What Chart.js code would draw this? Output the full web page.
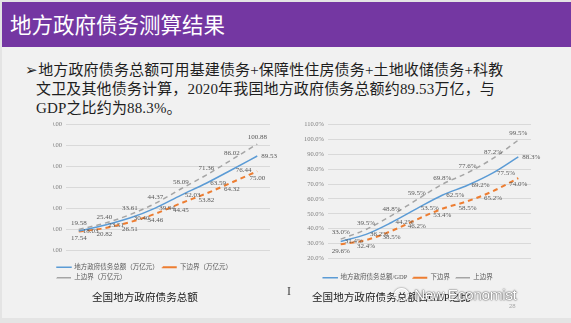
<!DOCTYPE html>
<html>
<head>
<meta charset="utf-8">
<script src="https://cdn.jsdelivr.net/npm/chart.js@4.4.1/dist/chart.umd.min.js"></script>
<style>
  body { margin: 0; width: 571px; height: 323px; overflow: hidden; background: #e4e4e4; position: relative; }
  .slide { position: absolute; left: 2px; top: 2px; width: 569px; height: 316px; background: #f1f1f1; }
  .header { position: absolute; left: 2px; top: 2px; width: 569px; height: 45px; background: #7437a2; }
  .header span { position: absolute; left: 8px; top: 8px; font: 21.5px "Noto Sans CJK SC", sans-serif; color: #fff; line-height: 28px; }
  .bullet { position: absolute; left: 25px; top: 61px; font: 15px "Liberation Serif", "Noto Sans CJK SC", serif; color: #1e1e1e; line-height: 19px; white-space: nowrap; letter-spacing: 0.15px; }
  .bullet .ind { padding-left: 11px; }
  canvas { position: absolute; }
  #chart-total { left: 20px; top: 110px; }
  #chart-ratio { left: 285px; top: 110px; }
  .caption { position: absolute; top: 289px; font: 10.6px "Liberation Serif", "Noto Sans CJK SC", serif; color: #222; white-space: nowrap; }
  .cursor { position: absolute; left: 287px; top: 284px; font: 12px "Liberation Serif", serif; color: #444; }
  .mark { position: absolute; left: 394px; top: 286px; font: 15.5px "Liberation Sans", sans-serif; letter-spacing: -0.4px; color: #fff; text-shadow: 0 0 1px #333, 0 0 2px #555; white-space: nowrap; }
  .mark i { display: inline-block; width: 13px; height: 11px; border: 1.5px solid #fff; border-radius: 50%; box-shadow: 0 0 2px #555; margin-right: 5px; vertical-align: -1px; }
  .page { position: absolute; left: 509px; top: 303px; font: 6px "Liberation Sans", sans-serif; color: #aaa; }
</style>
</head>
<body>
<div class="slide"></div>
<div class="header"><span>地方政府债务测算结果</span></div>
<div class="bullet">➢地方政府债务总额可用基建债务+保障性住房债务+土地收储债务+科教<br><span class="ind">文卫及其他债务计算，2020年我国地方政府债务总额约89.53万亿，与</span><br><span class="ind">GDP之比约为88.3%。</span></div>

<canvas id="chart-total" width="262" height="181"></canvas>
<canvas id="chart-ratio" width="263" height="181"></canvas>

<div class="caption" style="left:92px">全国地方政府债务总额</div>
<div class="caption" style="left:312px">全国地方政府债务总额占GDP之比</div>
<div class="cursor">I</div>
<div class="mark"><i></i>New Economist</div>
<div class="page">28</div>

<script>
// Local government debt estimates, 2013–2020

const years = ['2013', '2014', '2015', '2016', '2017', '2018', '2019', '2020'];

// total debt, trillion yuan
const debtTotal = [18.03, 23.51, 30.40, 39.94, 52.03, 63.59, 76.44, 89.53];
const debtLower = [17.54, 20.82, 26.51, 34.46, 44.45, 53.82, 64.32, 75.00];
const debtUpper = [19.58, 25.40, 33.61, 44.37, 58.09, 71.36, 86.02, 100.88];

// debt / GDP, percent
const ratioTotal = [31.4, 36.2, 44.2, 53.5, 62.5, 69.2, 77.5, 88.3];
const ratioLower = [29.6, 32.4, 38.5, 46.2, 53.4, 58.5, 65.2, 74.0];
const ratioUpper = [33.0, 39.5, 48.8, 59.5, 69.8, 77.6, 87.2, 99.5];

const BLUE = '#5b9bd5';
const ORANGE = '#ed7d31';
const GREY = '#a5a5a5';
const TEXT = '#595959';
const SERIF = '"Liberation Serif", "Noto Sans CJK SC", serif';

// value labels next to each point; side comes from dataset.labelPos
const valueLabels = {
  id: 'valueLabels',
  afterDatasetsDraw(chart, args, opts) {
    const ctx = chart.ctx;
    ctx.save();
    ctx.font = `7px ${SERIF}`;
    ctx.fillStyle = TEXT;
    chart.data.datasets.forEach((ds, i) => {
      chart.getDatasetMeta(i).data.forEach((pt, j) => {
        const text = opts.format(ds.data[j]);
        if (ds.labelPos === 'right') {
          ctx.textAlign = 'left';
          ctx.textBaseline = 'middle';
          ctx.fillText(text, pt.x + 4, pt.y);
        } else if (ds.labelPos === 'above') {
          ctx.textAlign = 'center';
          ctx.textBaseline = 'bottom';
          ctx.fillText(text, pt.x, pt.y - 3);
        } else {
          ctx.textAlign = 'center';
          ctx.textBaseline = 'top';
          ctx.fillText(text, pt.x, pt.y + 3);
        }
      });
    });
    ctx.restore();
  },
};

function lineSet(label, data, color, dash, width, pos) {
  return {
    label,
    data,
    borderColor: color,
    backgroundColor: color,
    borderDash: dash,
    borderWidth: width,
    pointRadius: 0,
    cubicInterpolationMode: 'monotone',
    fill: false,
    labelPos: pos,
  };
}

function legendItems(chart) {
  return chart.data.datasets.map((ds, i) => ({
    text: ds.label,
    fillStyle: 'rgba(0,0,0,0)',
    strokeStyle: ds.borderColor,
    lineWidth: ds.borderWidth,
    lineDash: ds.borderDash,
    fontColor: TEXT,
    datasetIndex: i,
    hidden: false,
  }));
}

function makeChart(id, sets, yOpts, layout, axisWidth, legendOpts, format) {
  return new Chart(document.getElementById(id), {
    type: 'line',
    data: { labels: years, datasets: sets },
    plugins: [valueLabels],
    options: {
      responsive: false,
      animation: false,
      layout: { padding: layout },
      plugins: {
        legend: {
          position: 'bottom',
          align: legendOpts.align,
          labels: {
            boxWidth: 14,
            boxHeight: 0.01,
            padding: legendOpts.padding,
            color: TEXT,
            font: { size: 6.5, family: SERIF },
            generateLabels: legendItems,
          },
        },
        tooltip: { enabled: false },
        valueLabels: { format },
      },
      scales: {
        x: {
          offset: true,
          grid: { display: false },
          border: { display: false },
          ticks: { color: TEXT, padding: 3, font: { size: 7, family: SERIF } },
          afterFit: (s) => { s.height = 10; },
        },
        y: {
          min: yOpts.min,
          max: yOpts.max,
          grid: { color: '#d9d9d9', drawTicks: false },
          border: { display: false },
          ticks: { stepSize: yOpts.step, color: '#7f7f7f', padding: 4, font: { size: 6.5, family: SERIF }, callback: yOpts.tick },
          afterFit: (s) => { s.width = axisWidth; },
        },
      },
    },
  });
}

makeChart('chart-total', [
  lineSet('地方政府债务总额（万亿元）', debtTotal, BLUE, [], 1.5, 'right'),
  lineSet('下边界（万亿元）', debtLower, ORANGE, [5, 4], 2, 'below'),
  lineSet('上边界（万亿元）', debtUpper, GREY, [5, 4], 1.5, 'above'),
], { min: 0, max: 120, step: 20, tick: (v) => v.toFixed(2) },
{ left: 33, right: 12, top: 14, bottom: 0 }, 13, { align: 'start', padding: 4 },
(v) => v.toFixed(2));

makeChart('chart-ratio', [
  lineSet('地方政府债务总额/GDP', ratioTotal, BLUE, [], 1.5, 'right'),
  lineSet('下边界', ratioLower, ORANGE, [5, 4], 2, 'below'),
  lineSet('上边界', ratioUpper, GREY, [5, 4], 1.5, 'above'),
], { min: 20, max: 110, step: 10, tick: (v) => v.toFixed(1) + '%' },
{ left: 0, right: 17, top: 14.5, bottom: 0 }, 43, { align: 'center', padding: 6 },
(v) => v.toFixed(1) + '%');
</script>
</body>
</html>
